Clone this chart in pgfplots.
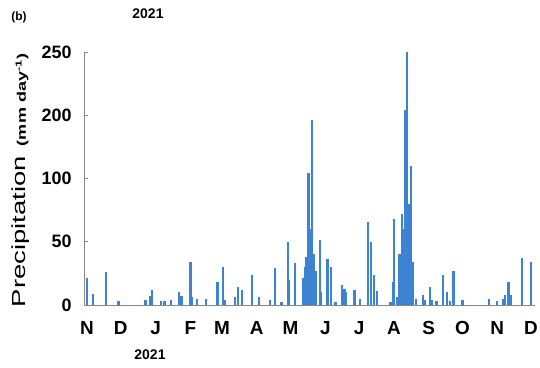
\documentclass[border=0pt]{standalone}
\usepackage{pgfplots}
\pgfplotsset{compat=1.18}
\usepackage{pgfplotstable}
\usepackage{fontspec}
\setmainfont{Liberation Sans}
\definecolor{barblue}{RGB}{62,130,210}
\definecolor{axgray}{RGB}{135,135,135}
% day since 1 Nov 2020, bar height in display units (ticks 0,50,100,150,200 labelled 0,50,100,200,250)
\pgfplotstableread{
day val
0 21
5 9
17 26
28 3
52 4
56 7
58 12
66 3
69 3
75 4
82 10
84 7
92 34
93 6
98 5
106 5
116 18
121 30
123 4
132 6
134 14
138 12
147 24
153 6
163 4
167 29
173 2
179 50
180 20
185 33
192 21
194 30
195 38
197 104
198 60
200 146
202 40
204 27
207 51
208 10
214 36
217 30
221 2
227 16
229 13
230 10
238 12
243 5
250 66
253 50
255 24
258 11
270 2
272 18
273 68
276 6
278 40
280 72
281 60
283 154
285 200
286 80
288 110
290 34
293 5
299 8
301 4
305 14
307 4
311 3
317 24
320 10
323 3
326 27
334 4
358 5
365 3
370 5
372 8
375 18
377 8
387 37
395 34
}\precip
\begin{document}
\begin{tikzpicture}[x=1bp,y=1bp]
\path[use as bounding box] (0,0) rectangle (540,367);
\begin{axis}[
  at={(84bp,62bp)}, anchor=south west,
  scale only axis, width=451bp, height=253bp,
  xmin=-2.7, xmax=398.6, ymin=0, ymax=200,
  axis x line*=bottom, axis y line*=left,
  axis line style={axgray, line width=0.8bp, -},
  xtick={0,30,61,92,120,151,181,212,242,273,304,334,365,395},
  xticklabels={N,D,J,F,M,A,M,J,J,A,S,O,N,D},
  xtick style={draw=none},
  ytick={0,50,100,150,200},
  yticklabels={0,50,100,200,250},
  ytick style={axgray, line width=0.8bp},
  tick align=inside, major tick length=4bp,
  /pgf/number format/assume math mode=true,
  xticklabel style={font=\fontsize{19}{19}\selectfont\bfseries, yshift=-13bp},
  yticklabel style={font=\fontsize{18}{18}\selectfont\bfseries, xshift=-9bp},
  clip=false,
]
\addplot[ycomb, barblue, line width=2.2bp, no marks] table[x=day, y=val] {\precip};
\end{axis}
\node[rotate=90, anchor=center] at (21,186.5) {\scalebox{1.45}[1]{\fontsize{19}{19}\selectfont Precipitation\hspace{7pt}{\fontsize{12.5}{12.5}\selectfont\bfseries (mm day\textsuperscript{-1})}}};
\node[anchor=center, font=\fontsize{12}{12}\selectfont\bfseries] at (19,350) {(b)};
\node[anchor=center, font=\fontsize{14}{14}\selectfont\bfseries] at (148,353) {2021};
\node[anchor=center, font=\fontsize{14}{14}\selectfont\bfseries] at (150,12) {2021};
\end{tikzpicture}
\end{document}
